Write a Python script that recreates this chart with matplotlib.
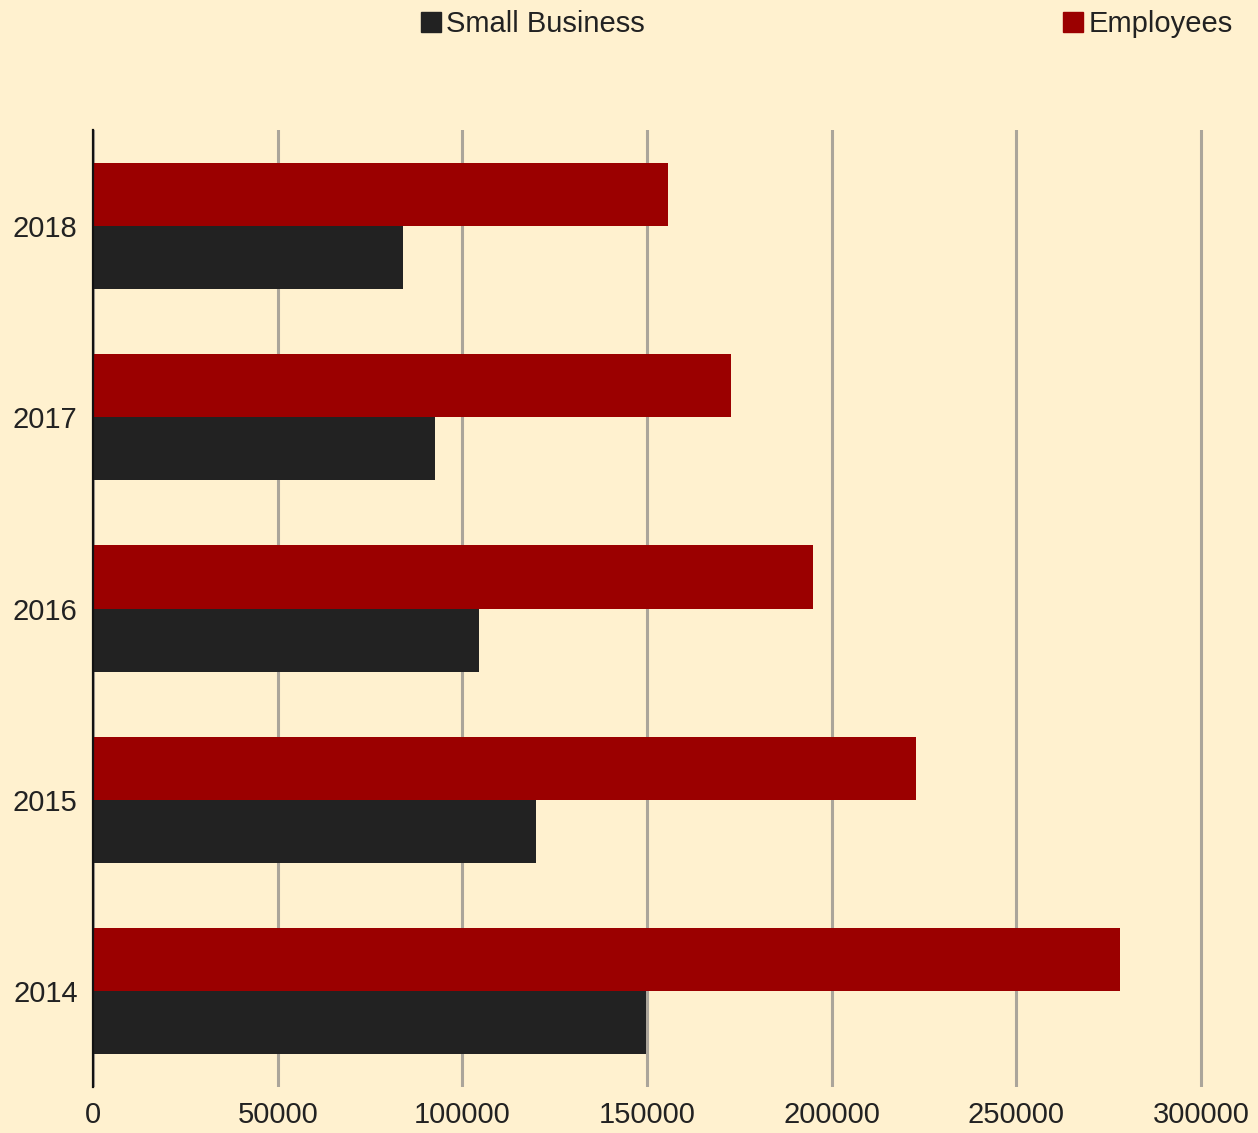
import numpy as np
import matplotlib.pyplot as plt
from matplotlib.patches import Patch

plt.rcParams['font.family'] = ['Liberation Sans', 'DejaVu Sans']

# values per year, bottom to top
years = ['2014', '2015', '2016', '2017', '2018']
small_business = [149700, 119900, 104500, 92600, 84000]
employees = [278000, 222800, 194900, 172700, 155600]
x_ticks = [0, 50000, 100000, 150000, 200000, 250000, 300000]

bg = '#FFF1CF'
red = '#9B0000'
dark = '#222222'

fig = plt.figure(figsize=(12.58, 11.33), dpi=100, facecolor=bg)
# a little room right of the last gridline so it is not clipped
ax = fig.add_axes([93/1258, 1-1087/1133, (1210-93)/1258, (1087-130)/1133])
ax.set_facecolor(bg)

y = np.arange(len(years))
h = 0.33
ax.barh(y + h/2, employees, height=h, color=red, zorder=3)
ax.barh(y - h/2, small_business, height=h, color=dark, zorder=3)

ax.set_xlim(0, 300000 * (1210-93) / (1201-93))
ax.set_ylim(-0.5, len(years) - 0.5)
ax.set_xticks(x_ticks)
ax.set_xticklabels([str(t) for t in x_ticks])
ax.set_yticks(y)
ax.set_yticklabels(years)
ax.tick_params(axis='both', length=0, labelsize=21, colors='#222222')
ax.tick_params(axis='y', pad=11)
ax.tick_params(axis='x', pad=10)

for s in ['top', 'right', 'bottom']:
    ax.spines[s].set_visible(False)
ax.spines['left'].set_color('#111111')
ax.spines['left'].set_linewidth(1.6)
ax.spines['left'].set_zorder(4)
ax.grid(axis='x', color='#ABA59A', linewidth=2.2, zorder=1)
ax.grid(axis='y', visible=False)

# two separate legend entries across the top
leg_kw = dict(frameon=False, fontsize=21, handlelength=0.69, handleheight=0.69,
              handletextpad=0.18, borderpad=0, borderaxespad=0, loc='center left')
l1 = fig.legend(handles=[Patch(color=dark, label='Small Business')],
                bbox_to_anchor=(421/1258, 1-24/1133), **leg_kw)
l2 = fig.legend(handles=[Patch(color=red, label='Employees')],
                bbox_to_anchor=(1063/1258, 1-24/1133), **leg_kw)
for l in (l1, l2):
    for t in l.get_texts():
        t.set_color('#222222')

fig.savefig('out.png', dpi=100, facecolor=bg)
